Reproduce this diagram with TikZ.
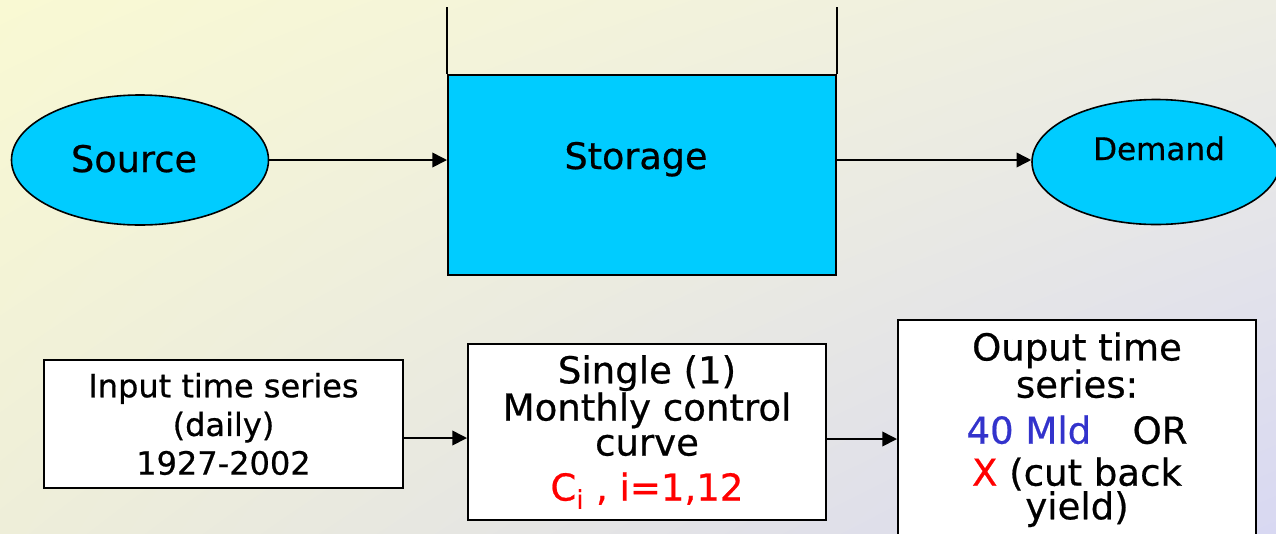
\documentclass[tikz,border=0pt]{standalone}
\usepackage{fontspec}
\setmainfont[FakeBold=0.6]{DejaVu Sans}
\usetikzlibrary{arrows.meta,shapes.geometric,shadings}
\definecolor{tank}{HTML}{00CCFF}
\definecolor{bgUL}{HTML}{F9F9D3}
\definecolor{bgUR}{HTML}{EDEDE3}
\definecolor{bgLL}{HTML}{EEEED9}
\definecolor{bgLR}{HTML}{D8D8F2}
\definecolor{yieldblue}{HTML}{3333CC}
\definecolor{cutred}{HTML}{FF0000}
\begin{document}
\begin{tikzpicture}[x=0.75pt,y=-0.75pt,
  conn/.style={line width=1.2pt, -{Triangle[length=11pt,width=11pt]}},
  blob/.style={ellipse, draw, line width=1.2pt, fill=tank, inner sep=0pt},
  panel/.style={draw, line width=1.5pt, fill=white, inner sep=0pt, align=center},
  big/.style={font=\fontsize{27.8pt}{26.25pt}\selectfont},
]
% page and backdrop
\useasboundingbox (0,0) rectangle (1276,533);
\shade[upper left=bgUL, upper right=bgUR, lower left=bgLL, lower right=bgLR]
  (0,0) rectangle (1276,533);

% upper row: source -> storage tank -> demand
\node[blob, minimum width=192.75pt, minimum height=97.5pt] (source) at (140,160) {};
\node[anchor=base, font=\fontsize{27.5pt}{33pt}\selectfont] (sourcetext) at (134,172) {Source};
\node[draw, line width=1.5pt, fill=tank, minimum width=291pt, minimum height=150pt,
  inner sep=0pt] (storage) at (642,175) {};
\node[anchor=base, font=\fontsize{27.4pt}{33pt}\selectfont] (storagetext) at (636,169) {Storage};
\draw[line width=1.3pt] (storage.north west) -- ++(0,-67) coordinate (wallL);
\draw[line width=1.3pt] (storage.north east) -- ++(0,-67) coordinate (wallR);
\node[blob, minimum width=186pt, minimum height=93.75pt] (demand) at (1156,162) {};
\node[anchor=base, font=\fontsize{23.3pt}{28pt}\selectfont] (demandtext) at (1159,160) {Demand};

\draw[conn] (source.east) -- (source.east -| storage.west);
\draw[conn] (storage.east |- source.east) -- (demand.west |- source.east);

% lower row: model chain
\node[panel, minimum width=269.25pt, minimum height=96pt,
  font=\fontsize{24pt}{29pt}\selectfont] (input) at (223.5,424)
  {Input time series\\(daily)\\1927-2002};
\node[panel, big, minimum width=268.5pt, minimum height=132pt] (single) at (647,432)
  {Single (1)\\Monthly control\\curve\\[7.5pt]
   {\color{cutred}C\textsubscript{i} , i=1,12}};
\node[draw, line width=1.5pt, fill=white, minimum width=268.5pt, minimum height=180pt,
  inner sep=0pt] (output) at (1077,440) {};
\node[anchor=north, big, align=center, inner sep=0pt] (outtext) at (1077,332)
  {Ouput time\\series:\\[8.25pt]
   {\color{yieldblue}40 Mld}\hspace{31pt}OR\\[5.25pt]
   {\color{cutred}X} (cut back\\[-1pt]yield)};

\draw[conn] (input.east |- 0,438) -- (single.west |- 0,438);
\draw[conn] (single.east |- 0,439) -- (output.west |- 0,439);
\end{tikzpicture}
\end{document}
